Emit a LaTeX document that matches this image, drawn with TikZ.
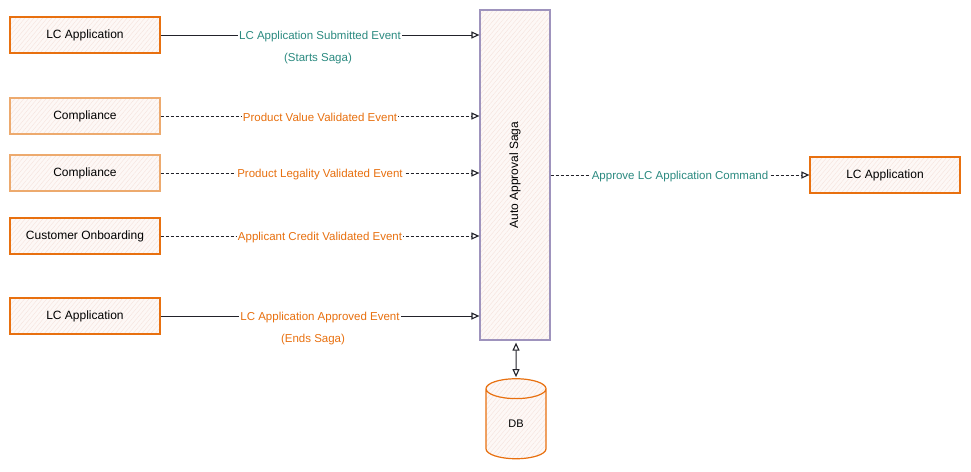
\documentclass[tikz,border=0pt]{standalone}
\usepackage{fontspec}
\setmainfont{Liberation Sans}
\usetikzlibrary{arrows.meta,shapes.geometric,patterns.meta}
\definecolor{eorange}{HTML}{E8700F}
\definecolor{lorange}{HTML}{EDAA6E}
\definecolor{eteal}{HTML}{2B8A80}
\definecolor{epurple}{HTML}{9E93BD}
\definecolor{hatch}{HTML}{F6E4DE}
\definecolor{tint}{HTML}{FDF8F6}
\definecolor{edark}{HTML}{22222A}
\tikzset{
  x=1pt,y=-1pt,
  hatched/.style={preaction={fill=tint},preaction={pattern={Lines[angle=50,distance=3.4pt,line width=0.45pt]},pattern color=hatch}},
  box/.style={draw=eorange,line width=1.2pt,hatched,minimum width=150pt,minimum height=36pt,inner sep=0pt,font=\fontsize{12}{14}\selectfont,text=black},
  lbox/.style={box,draw=lorange},
  mytip/.tip={Triangle[open,length=8pt,width=7pt,line width=1.1pt]},
  conn/.style={draw=edark,line width=1pt,-mytip},
  dconn/.style={conn,dash pattern=on 3pt off 2pt},
  lab/.style={fill=white,inner sep=1pt,yshift=-1.5pt,font=\fontsize{11.5}{13}\selectfont},
}
\begin{document}
\begin{tikzpicture}
\useasboundingbox (0,0) rectangle (971,471);
% nodes
\node[box]  (lc1) at (85,35) {LC Application};
\node[lbox] (co1) at (85,116) {Compliance};
\node[lbox] (co2) at (85,173) {Compliance};
\node[box]  (cob) at (85,236) {Customer Onboarding};
\node[box]  (lc2) at (85,316) {LC Application};
\node[draw=epurple,line width=1.2pt,hatched,minimum width=70pt,minimum height=330pt,inner sep=0pt] (saga) at (515,175) {};
\node[rotate=90,font=\fontsize{12}{14}\selectfont] (sagat) at (saga.center) {Auto Approval Saga};
\node[box] (lc3) at (885,175) {LC Application};
\node[cylinder,shape border rotate=90,aspect=1.3,draw=eorange,line width=1.2pt,hatched,minimum width=60pt,minimum height=80pt,inner sep=0pt,font=\fontsize{11}{13}\selectfont] (db) at (516,424) {DB};
% coordinates on saga
\coordinate (s1) at (saga.west |- lc1);
\coordinate (s2) at (saga.west |- co1);
\coordinate (s3) at (saga.west |- co2);
\coordinate (s4) at (saga.west |- cob);
\coordinate (s5) at (saga.west |- lc2);
% connectors
\draw[conn] (lc1.east) -- node[lab,text=eteal] {LC Application Submitted Event} (s1);
\node[text=eteal,font=\fontsize{11.5}{13}\selectfont] (st) at (318,59) {(Starts Saga)};
\draw[dconn] (co1.east) -- node[lab,text=eorange] {Product Value Validated Event} (s2);
\draw[dconn] (co2.east) -- node[lab,text=eorange] {Product Legality Validated Event} (s3);
\draw[dconn] (cob.east) -- node[lab,text=eorange] {Applicant Credit Validated Event} (s4);
\draw[conn] (lc2.east) -- node[lab,text=eorange] {LC Application Approved Event} (s5);
\node[text=eorange,font=\fontsize{11.5}{13}\selectfont] (en) at (313,340) {(Ends Saga)};
\draw[dconn] (saga.east |- lc3) -- node[lab,text=eteal] {Approve LC Application Command} (lc3.west);
\draw[conn,mytip-mytip,shorten <=2pt,shorten >=1pt] (saga.south -| db) -- (db.north);
\end{tikzpicture}
\end{document}
